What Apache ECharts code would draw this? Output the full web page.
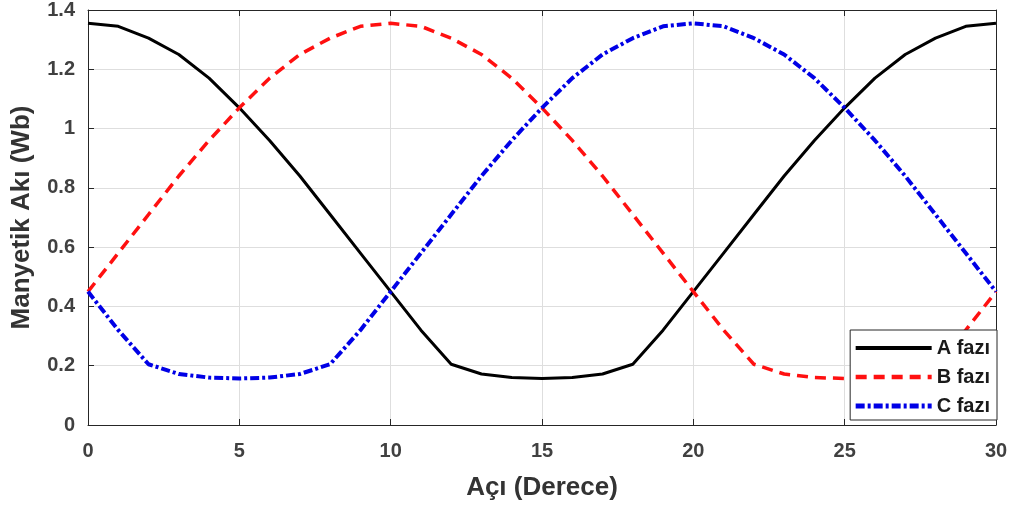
<!DOCTYPE html>
<html>
<head>
<meta charset="utf-8">
<script src="https://cdn.jsdelivr.net/npm/echarts@6/dist/echarts.min.js"></script>
<style>
  html, body { margin: 0; padding: 0; background: #fff; }
  #chart { width: 1013px; height: 508px; }
</style>
</head>
<body>
<div id="chart"></div>
<script>
// açı değerleri (derece)
const angles = [0, 1, 2, 3, 4, 5, 6, 7, 8, 9, 10, 11, 12, 13, 14, 15,
    16, 17, 18, 19, 20, 21, 22, 23, 24, 25, 26, 27, 28, 29, 30];

const phaseA = [1.355, 1.345, 1.305, 1.25, 1.17, 1.07, 0.96, 0.84, 0.71, 0.58, 0.45,
    0.32, 0.205, 0.172, 0.16, 0.157, 0.16, 0.172, 0.205, 0.32, 0.45,
    0.58, 0.71, 0.84, 0.96, 1.07, 1.17, 1.25, 1.305, 1.345, 1.355];

const phaseB = [0.45, 0.58, 0.71, 0.84, 0.96, 1.07, 1.17, 1.25, 1.305, 1.345, 1.355,
    1.345, 1.305, 1.25, 1.17, 1.07, 0.96, 0.84, 0.71, 0.58, 0.45,
    0.32, 0.205, 0.172, 0.16, 0.157, 0.16, 0.172, 0.205, 0.32, 0.45];

const phaseC = [0.45, 0.32, 0.205, 0.172, 0.16, 0.157, 0.16, 0.172, 0.205, 0.32, 0.45,
    0.58, 0.71, 0.84, 0.96, 1.07, 1.17, 1.25, 1.305, 1.345, 1.355,
    1.345, 1.305, 1.25, 1.17, 1.07, 0.96, 0.84, 0.71, 0.58, 0.45];

const seriesNames = ['A fazı', 'B fazı', 'C fazı'];

const pairs = (ys) => angles.map((x, i) => [x, ys[i]]);

const chart = echarts.init(document.getElementById('chart'));

const font = 'Liberation Sans, Arial, sans-serif';
const frame = '#262626';

// üst ve sağ kenar (kutu) için etiketsiz eksenler
const baseAxis = {
    axisLine: { show: true, onZero: false, lineStyle: { color: frame, width: 1 } },
    axisTick: { show: true, inside: true, length: 6, lineStyle: { color: frame } },
    splitLine: { show: false },
    axisLabel: { show: false }
};

chart.setOption({
    animation: false,
    grid: { left: 88, right: 17, top: 10, bottom: 83 },
    legend: {
        data: [
            { name: seriesNames[0], lineStyle: { width: 4 } },
            { name: seriesNames[1], lineStyle: { width: 4.5 } },
            { name: seriesNames[2], lineStyle: { width: 5 } }
        ],
        orient: 'vertical',
        right: 16,
        bottom: 88,
        itemWidth: 76,
        itemHeight: 20,
        itemGap: 9,
        padding: [8, 7, 4, 3],
        backgroundColor: '#fff',
        borderColor: frame,
        borderWidth: 1,
        borderRadius: 0,
        itemStyle: { opacity: 0, borderWidth: 0 },
        textStyle: { fontFamily: font, fontSize: 20, lineHeight: 20, fontWeight: 'bold', color: '#1a1a1a' }
    },
    xAxis: [
        {
            type: 'value', min: 0, max: 30, interval: 5,
            name: 'Açı (Derece)', nameLocation: 'middle', nameGap: 50,
            nameTextStyle: { fontFamily: font, fontSize: 26, fontWeight: 'bold', color: '#333' },
            axisLine: { show: true, onZero: false, lineStyle: { color: frame, width: 1 } },
            axisTick: { show: true, inside: true, length: 6, lineStyle: { color: frame } },
            splitLine: { show: true, lineStyle: { color: '#dedede', width: 1 } },
            axisLabel: { fontFamily: font, fontSize: 20, fontWeight: 'bold', color: '#404040', margin: 16 }
        },
        Object.assign({ type: 'value', min: 0, max: 30, interval: 5, position: 'top' }, baseAxis)
    ],
    yAxis: [
        {
            type: 'value', min: 0, max: 1.4, interval: 0.2,
            name: 'Manyetik Akı (Wb)', nameLocation: 'middle', nameGap: 53,
            nameTextStyle: { fontFamily: font, fontSize: 26, fontWeight: 'bold', color: '#333' },
            axisLine: { show: true, onZero: false, lineStyle: { color: frame, width: 1 } },
            axisTick: { show: true, inside: true, length: 6, lineStyle: { color: frame } },
            splitLine: { show: true, lineStyle: { color: '#dedede', width: 1 } },
            axisLabel: { fontFamily: font, fontSize: 20, fontWeight: 'bold', color: '#404040', margin: 13 }
        },
        Object.assign({ type: 'value', min: 0, max: 1.4, interval: 0.2, position: 'right' }, baseAxis)
    ],
    series: [
        {
            name: seriesNames[0], type: 'line', data: pairs(phaseA),
            showSymbol: false, symbol: 'none',
            itemStyle: { color: '#000' },
            lineStyle: { color: '#000', width: 3 }
        },
        {
            name: seriesNames[1], type: 'line', data: pairs(phaseB),
            showSymbol: false, symbol: 'none',
            itemStyle: { color: '#ff1010' },
            lineStyle: { color: '#ff1010', width: 3.5, type: [11, 7] }
        },
        {
            name: seriesNames[2], type: 'line', data: pairs(phaseC),
            showSymbol: false, symbol: 'none',
            itemStyle: { color: '#0000e6' },
            lineStyle: { color: '#0000e6', width: 4, type: [9, 3, 3, 3] }
        }
    ]
});
</script>
</body>
</html>
